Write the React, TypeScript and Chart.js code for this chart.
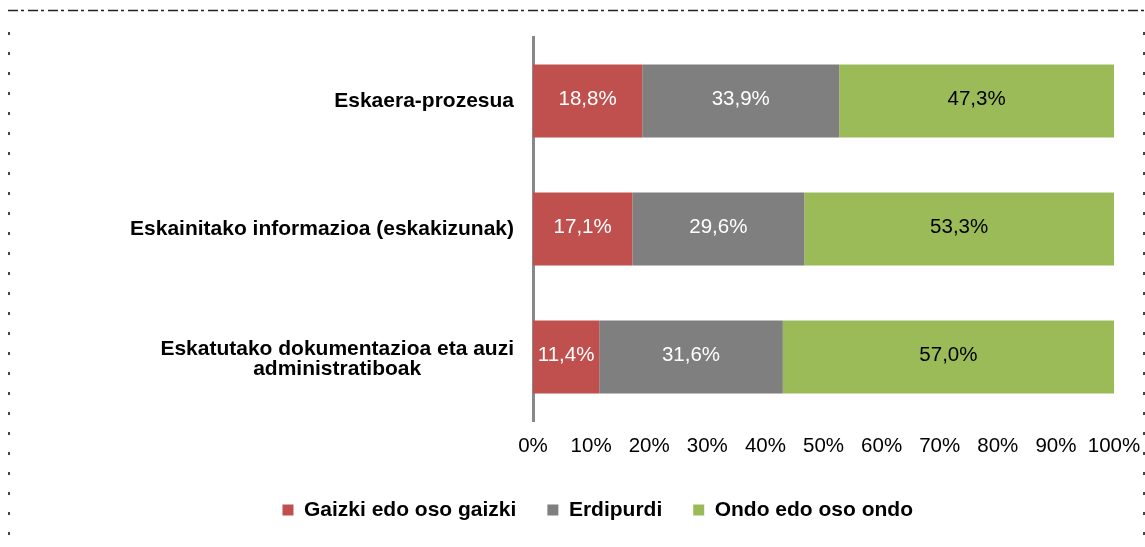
import { useEffect, useRef } from 'react';
import { Chart, registerables } from 'chart.js';

Chart.register(...registerables);

const FONT = "'Liberation Sans', Arial, Helvetica, sans-serif";

const categories: string[][] = [
  ['Eskaera-prozesua'],
  ['Eskainitako informazioa (eskakizunak)'],
  ['Eskatutako dokumentazioa eta auzi', 'administratiboak'],
];
const seriesNames = ['Gaizki edo oso gaizki', 'Erdipurdi', 'Ondo edo oso ondo'];
const gaizki = [18.8, 17.1, 11.4];
const erdipurdi = [33.9, 29.6, 31.6];
const ondo = [47.3, 53.3, 57.0];
const seriesColors = ['#C0504D', '#7F7F7F', '#9BBB59'];
const labelColors = ['#FFFFFF', '#FFFFFF', '#000000'];
const xTickValues = [0, 10, 20, 30, 40, 50, 60, 70, 80, 90, 100];

const framePlugin = {
  id: 'frame',
  beforeDraw(chart: any) {
    const ctx = chart.ctx;
    ctx.save();
    ctx.strokeStyle = '#222';
    ctx.lineWidth = 1.5;
    ctx.setLineDash([10, 3, 3, 4]);
    ctx.beginPath();
    ctx.moveTo(8, 10.5);
    ctx.lineTo(1144, 10.5);
    ctx.stroke();
    ctx.setLineDash([]);
    ctx.fillStyle = '#444';
    for (let y = 32; y < chart.height; y += 20) {
      ctx.fillRect(8, y, 2, 3);
      ctx.fillRect(1143, y, 2, 3);
    }
    ctx.restore();
  },
};

const categoryLabelPlugin = {
  id: 'catLabels',
  afterDraw(chart: any) {
    const ctx = chart.ctx;
    const yScale = chart.scales.y;
    const rightEdge = chart.chartArea.left - 19;
    const lineHeight = 20;
    ctx.save();
    ctx.font = `bold 21px ${FONT}`;
    ctx.fillStyle = '#000';
    ctx.textAlign = 'center';
    ctx.textBaseline = 'middle';
    categories.forEach((lines, i) => {
      const yc = yScale.getPixelForTick(i) + (lines.length > 1 ? 2 : 0);
      const w = Math.max(...lines.map((l) => ctx.measureText(l).width));
      const xc = rightEdge - w / 2;
      lines.forEach((line, j) => {
        ctx.fillText(line, xc, yc + (j - (lines.length - 1) / 2) * lineHeight);
      });
    });
    ctx.restore();
  },
};

const dataLabelPlugin = {
  id: 'dataLabels',
  afterDatasetsDraw(chart: any) {
    const ctx = chart.ctx;
    ctx.save();
    ctx.font = `20.5px ${FONT}`;
    ctx.textAlign = 'center';
    ctx.textBaseline = 'middle';
    chart.data.datasets.forEach((ds: any, di: number) => {
      const meta = chart.getDatasetMeta(di);
      meta.data.forEach((el: any, i: number) => {
        const v = ds.data[i] as number;
        const p = el.getCenterPoint();
        ctx.fillStyle = labelColors[di];
        ctx.fillText(v.toFixed(1).replace('.', ',') + '%', p.x, p.y - 2);
      });
    });
    ctx.restore();
  },
};

export default function App() {
  const ref = useRef<HTMLCanvasElement>(null);
  useEffect(() => {
    const canvas = ref.current!;
    const seriesData = [gaizki, erdipurdi, ondo];
    const chart = new Chart(canvas, {
      type: 'bar',
      data: {
        labels: categories,
        datasets: seriesNames.map((name, i) => ({
          label: name,
          data: seriesData[i],
          backgroundColor: seriesColors[i],
          borderWidth: 0,
          barPercentage: 0.57,
          categoryPercentage: 1,
        })),
      },
      options: {
        indexAxis: 'y',
        animation: false,
        responsive: false,
        maintainAspectRatio: false,
        layout: { padding: { top: 37, left: 81.5, right: 31, bottom: 16.5 } },
        scales: {
          x: {
            stacked: true,
            min: 0,
            max: 100,
            grid: { display: false, drawTicks: false },
            border: { display: false },
            afterBuildTicks: (s: any) => {
              s.ticks = xTickValues.map((v) => ({ value: v }));
            },
            ticks: {
              padding: 13,
              color: '#000',
              maxRotation: 0,
              minRotation: 0,
              autoSkip: false,
              font: { size: 20.5, family: FONT },
              callback: (v: any) => v + '%',
            },
            afterFit: (s: any) => {
              s.height = 47.5;
              s.paddingLeft = 0;
              s.paddingRight = 0;
            },
          },
          y: {
            stacked: true,
            grid: { display: false, drawTicks: false },
            border: { display: true, color: '#888888', width: 3 },
            ticks: { display: false },
            afterFit: (s: any) => {
              s.width = 451.5;
            },
          },
        },
        plugins: {
          legend: {
            position: 'bottom',
            labels: {
              boxWidth: 11,
              boxHeight: 11,
              padding: 31,
              color: '#000',
              font: { size: 21, weight: 'bold', family: FONT },
            },
          },
          tooltip: { enabled: false },
        },
      } as any,
      plugins: [framePlugin, categoryLabelPlugin, dataLabelPlugin],
    });
    return () => chart.destroy();
  }, []);
  return (
    <div style={{ position: 'absolute', left: 0, top: 0, width: 1145, height: 547 }}>
      <canvas ref={ref} width={1145} height={547} style={{ display: 'block' }} />
    </div>
  );
}
